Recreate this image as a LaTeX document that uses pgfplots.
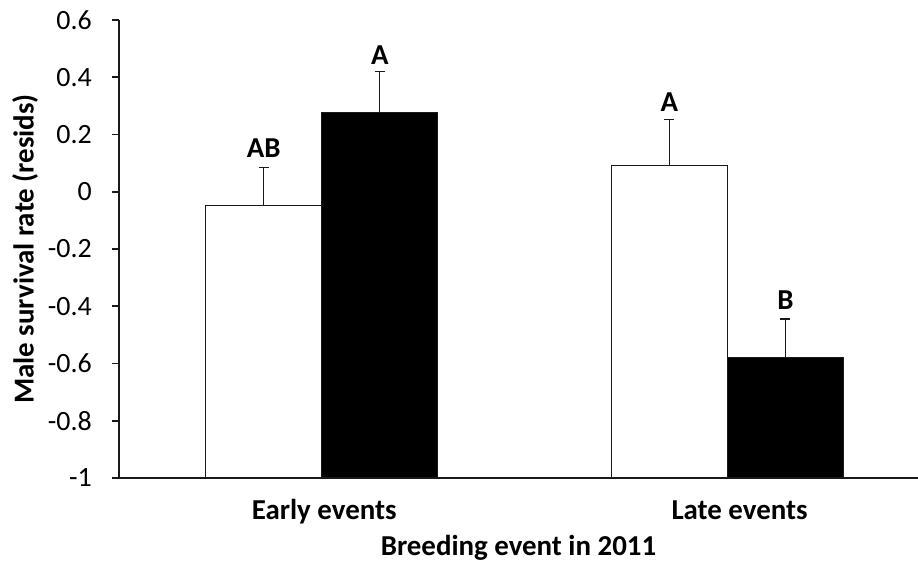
\documentclass[border=0pt]{standalone}
\usepackage{fontspec}
\setmainfont{Carlito}
\usepackage{pgfplots}
\pgfplotsset{compat=1.18}
\begin{document}
\begin{tikzpicture}
\useasboundingbox (-119bp,-91bp) rectangle (799bp,478bp);
\begin{axis}[
  at={(0,0)}, anchor=south west,
  scale only axis, width=799bp, height=458bp,
  xmin=-0.5, xmax=1.47, ymin=-1, ymax=0.6,
  y coord trafo/.code={\pgfmathparse{#1+1}},
  y coord inv trafo/.code={\pgfmathparse{#1-1}},
  axis x line*=bottom, axis y line*=left,
  axis line style={line width=2.6bp, black!90},
  tick align=outside,
  major tick length=7bp, minor tick length=7bp,
  every tick/.style={line width=1.8bp, black!90},
  xtick={0.006,1.03}, xticklabels={Early events, Late events},
  xtick style={draw=none},
  minor xtick={0.5},
  ytick={-1,-0.8,-0.6,-0.4,-0.2,0,0.2,0.4,0.6},
  yticklabels={-1,-0.8,-0.6,-0.4,-0.2,0,0.2,0.4,0.6},
  yticklabel style={font=\fontsize{28}{30}\selectfont, anchor=east, inner sep=0pt, xshift=-20bp},
  xticklabel style={font=\bfseries\fontsize{29}{31}\selectfont, anchor=base, inner sep=0pt, yshift=-34bp},
  every axis y label/.style={at={(axis description cs:-0.1176,0.5)}, rotate=90, anchor=center, font=\bfseries\fontsize{29}{31}\selectfont},
  every axis x label/.style={at={(axis description cs:0.5,-0.1528)}, anchor=center, font=\bfseries\fontsize{29}{31}\selectfont},
  ylabel={Male survival rate (resids)},
  xlabel={Breeding event in 2011},
  ybar=0pt, bar width=116bp,
  clip=false,
]
\addplot[draw=black!90, line width=1.3bp, fill=white,
  error bars/.cd, y dir=plus, y explicit,
  error mark options={rotate=90, mark size=5bp, line width=1.3bp, black!90},
  error bar style={line width=1.3bp, black!90}]
  coordinates {(0,-0.047) +- (0,0.131) (1,0.091) +- (0,0.162)};
\addplot[draw=black!90, line width=1.3bp, fill=black,
  error bars/.cd, y dir=plus, y explicit,
  error mark options={rotate=90, mark size=5bp, line width=1.3bp, black!90},
  error bar style={line width=1.3bp, black!90}]
  coordinates {(0,0.277) +- (0,0.143) (1,-0.58) +- (0,0.135)};
\node[font=\bfseries\fontsize{29}{31}\selectfont] at (axis cs:-0.143,0.153) {AB};
\node[font=\bfseries\fontsize{29}{31}\selectfont] at (axis cs:0.143,0.479) {A};
\node[font=\bfseries\fontsize{29}{31}\selectfont] at (axis cs:0.857,0.312) {A};
\node[font=\bfseries\fontsize{29}{31}\selectfont] at (axis cs:1.143,-0.38) {B};
\end{axis}
\end{tikzpicture}
\end{document}
